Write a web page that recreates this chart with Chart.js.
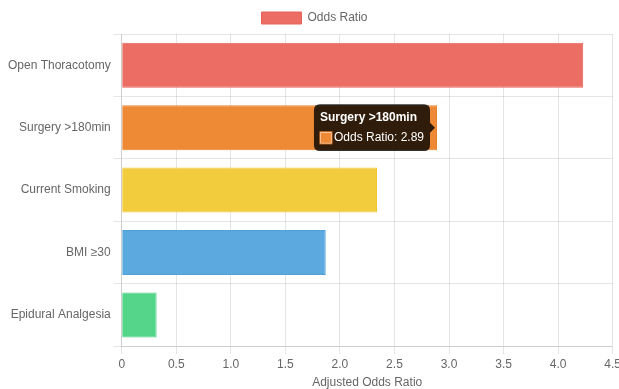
<!DOCTYPE html>
<html>
<head>
<meta charset="utf-8">
<script src="https://cdn.jsdelivr.net/npm/chart.js@4/dist/chart.umd.min.js"></script>
<style>
  html, body { margin: 0; padding: 0; background: #fff; overflow: hidden; }
  #wrap { position: relative; width: 619px; height: 389px; overflow: hidden; }
  #chart { position: absolute; left: 5px; top: 2px; }
</style>
</head>
<body>
<div id="wrap"><canvas id="chart" width="619" height="392"></canvas></div>
<script>
// Risk factors and their adjusted odds ratios
const factors = ['Open Thoracotomy', 'Surgery >180min', 'Current Smoking', 'BMI \u226530', 'Epidural Analgesia'];
const oddsRatios = [4.23, 2.89, 2.34, 1.87, 0.32];
const barColors = ['#ec6d64', '#ee8a36', '#f3cc3e', '#5ca9e0', '#55d58a'];
const barBorders = ['#e8625a', '#ea7f2a', '#f0c533', '#4f9fd8', '#4fd083'];
const xTicks = [0, 0.5, 1.0, 1.5, 2.0, 2.5, 3.0, 3.5, 4.0, 4.5];

Chart.defaults.font.family = "Arial, 'Liberation Sans', sans-serif";
Chart.defaults.font.size = 12;
Chart.defaults.color = '#666';

const chart = new Chart(document.getElementById('chart'), {
  type: 'bar',
  data: {
    labels: factors,
    datasets: [{
      label: 'Odds Ratio',
      data: oddsRatios,
      backgroundColor: barColors,
      borderColor: barBorders,
      hoverBackgroundColor: barColors,
      hoverBorderColor: barBorders,
      borderWidth: 1
    }]
  },
  options: {
    indexAxis: 'y',
    responsive: false,
    animation: false,
    plugins: {
      legend: { position: 'top' },
      tooltip: { enabled: true }
    },
    scales: {
      x: {
        min: 0,
        max: 4.5,
        afterBuildTicks: (axis) => { axis.ticks = xTicks.map(v => ({ value: v })); },
        ticks: {
          callback: (v) => (v === 0 ? '0' : Number(v).toFixed(1))
        },
        title: { display: true, text: 'Adjusted Odds Ratio', padding: { top: 1, bottom: 4 } }
      },
      y: {}
    }
  }
});

// Highlight the surgery-duration bar with its tooltip
chart.setActiveElements([{ datasetIndex: 0, index: 1 }]);
chart.tooltip.setActiveElements([{ datasetIndex: 0, index: 1 }], { x: 0, y: 0 });
chart.update();
</script>
</body>
</html>
